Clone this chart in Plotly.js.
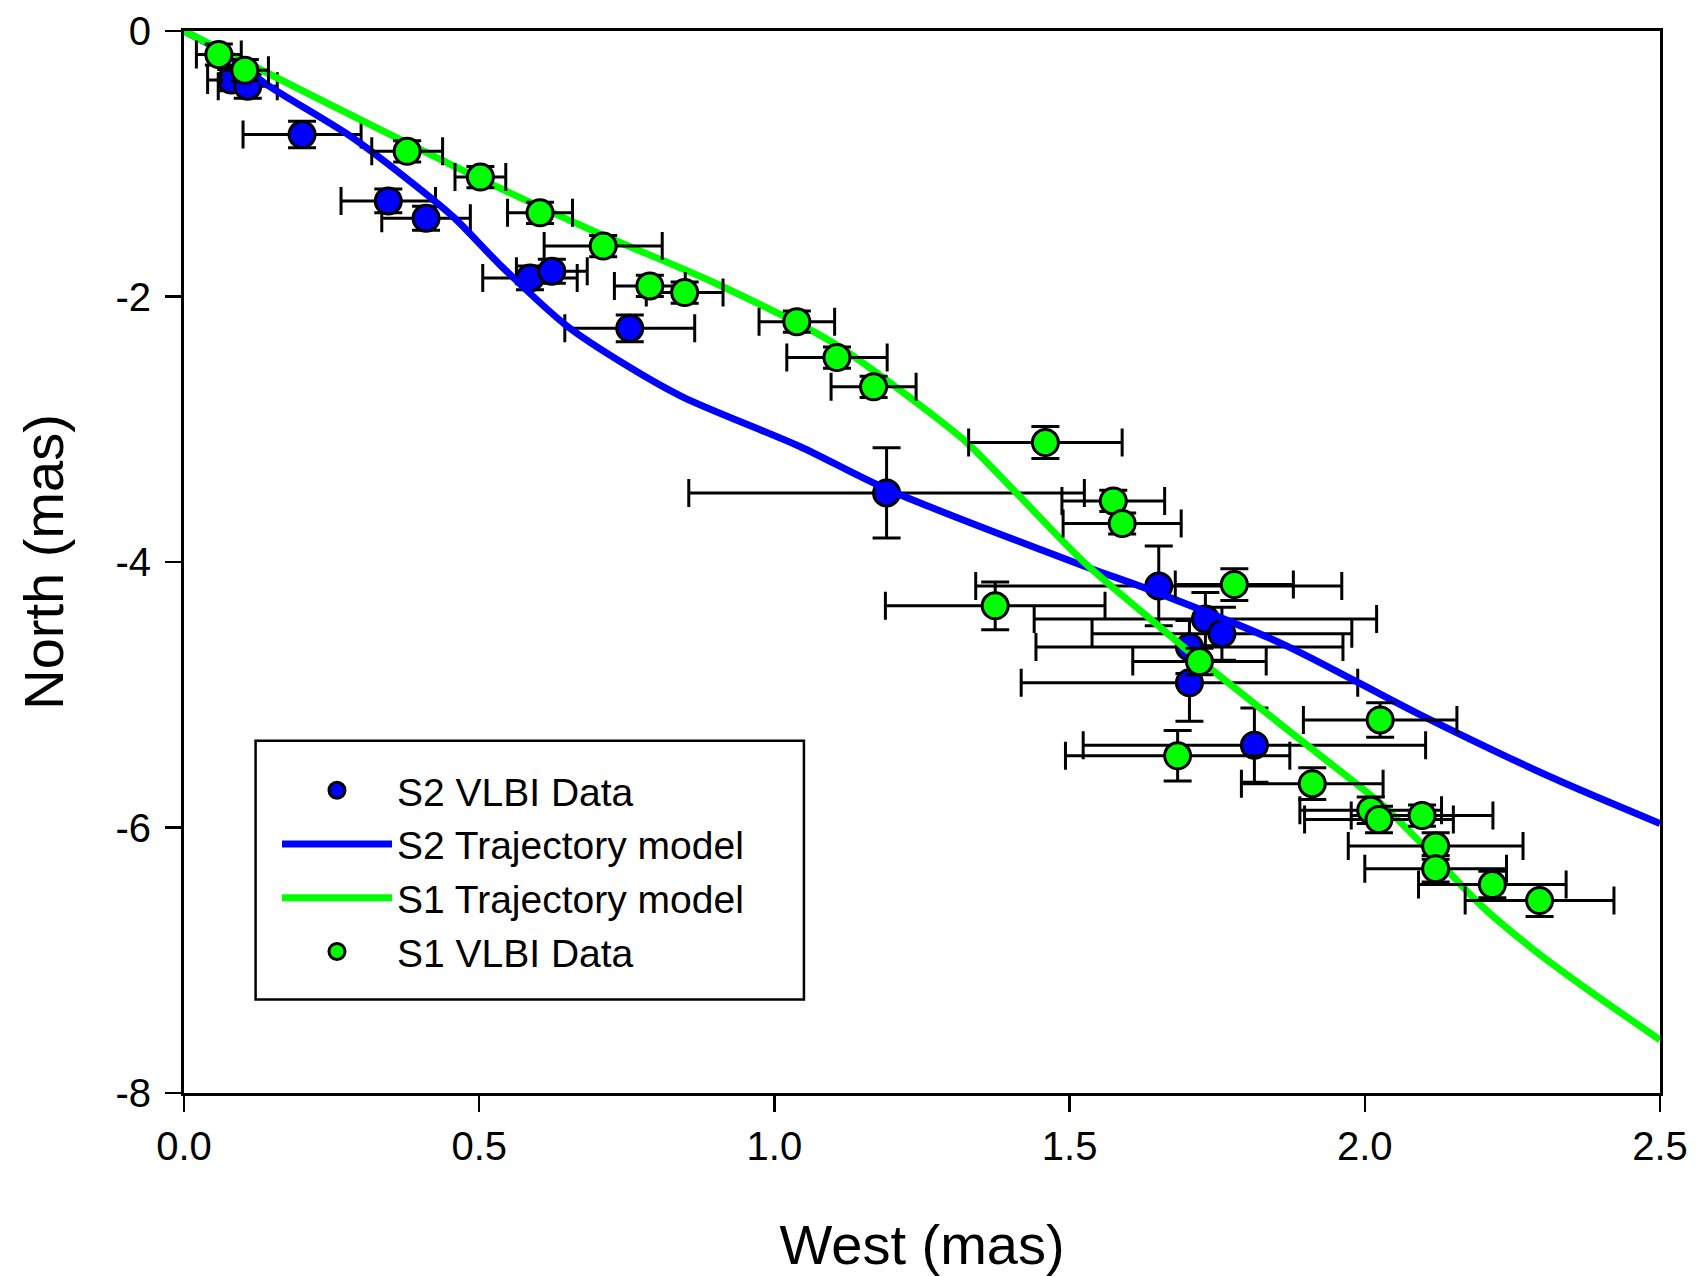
<!DOCTYPE html>
<html>
<head>
<meta charset="utf-8">
<script src="https://cdn.plot.ly/plotly-3.0.1.min.js"></script>
<style>html,body{margin:0;padding:0;background:#fff;}</style>
</head>
<body>
<div id="chart" style="width:1702px;height:1276px;"></div>
<script>
// S2 VLBI data (West, North) with errors, mas
const s2X    = [0.080, 0.108, 0.200, 0.346, 0.410, 0.586, 0.623, 0.755, 1.190, 1.651, 1.730, 1.758, 1.703, 1.703, 1.813];
const s2Y    = [-0.37, -0.416, -0.78, -1.28, -1.41, -1.86, -1.81, -2.24, -3.48, -4.18, -4.43, -4.54, -4.64, -4.91, -5.38];
const s2XErr = [0.040, 0.050, 0.100, 0.080, 0.075, 0.080, 0.060, 0.110, 0.335, 0.310, 0.290, 0.220, 0.260, 0.285, 0.290];
const s2YErr = [0.08, 0.09, 0.10, 0.09, 0.09, 0.09, 0.09, 0.10, 0.34, 0.30, 0.20, 0.20, 0.20, 0.29, 0.28];

// S1 VLBI data
const s1X    = [0.059, 0.103, 0.378, 0.502, 0.603, 0.710, 0.789, 0.848, 1.038, 1.106, 1.168, 1.459, 1.574, 1.589, 1.374, 1.779, 1.720, 1.683, 2.026, 1.911, 2.010, 2.024, 2.097, 2.120, 2.120, 2.216, 2.296];
const s1Y    = [-0.177, -0.295, -0.906, -1.10, -1.37, -1.62, -1.92, -1.97, -2.19, -2.46, -2.68, -3.10, -3.54, -3.71, -4.33, -4.17, -4.75, -5.46, -5.19, -5.67, -5.87, -5.94, -5.91, -6.14, -6.31, -6.43, -6.55];
const s1XErr = [0.038, 0.040, 0.060, 0.043, 0.055, 0.100, 0.060, 0.065, 0.064, 0.085, 0.072, 0.130, 0.087, 0.100, 0.186, 0.100, 0.113, 0.190, 0.130, 0.120, 0.120, 0.126, 0.120, 0.148, 0.120, 0.125, 0.126];
const s1YErr = [0.08, 0.08, 0.08, 0.08, 0.08, 0.08, 0.08, 0.08, 0.08, 0.08, 0.08, 0.12, 0.08, 0.08, 0.18, 0.12, 0.10, 0.19, 0.13, 0.12, 0.10, 0.10, 0.08, 0.10, 0.10, 0.10, 0.12];

// Trajectory models
const s2ModelX = [0, 0.07, 0.139, 0.281, 0.371, 0.456, 0.535, 0.648, 0.75, 0.846, 1.043, 1.19, 1.524, 1.636, 1.862, 2.089, 2.315, 2.5];
const s2ModelY = [0, -0.17, -0.40, -0.79, -1.09, -1.40, -1.76, -2.22, -2.52, -2.76, -3.13, -3.45, -4.03, -4.21, -4.62, -5.14, -5.62, -5.97];
const s1ModelX = [0, 0.25, 0.5, 0.7, 0.9, 1.1, 1.241, 1.326, 1.41, 1.524, 1.637, 1.693, 1.80, 1.908, 2.032, 2.122, 2.2, 2.286, 2.371, 2.5];
const s1ModelY = [0, -0.56, -1.11, -1.52, -1.90, -2.35, -2.80, -3.10, -3.48, -4.00, -4.43, -4.64, -5.02, -5.40, -5.84, -6.24, -6.60, -6.92, -7.20, -7.60];

// Tick labels
const xTickVals = [0, 0.5, 1.0, 1.5, 2.0, 2.5];
const xTickText = ["0.0", "0.5", "1.0", "1.5", "2.0", "2.5"];
const yTickVals = [0, -2, -4, -6, -8];
const yTickText = ["0", "-2", "-4", "-6", "-8"];

const FONT = "Liberation Sans, Arial, sans-serif";
const BLUE = "#0000ff";
const GREEN = "#00ff00";

const errStyle = (arr) => ({type: "data", array: arr, visible: true, color: "#000", thickness: 3, width: 14});

const traces = [
  {
    name: "S2 VLBI Data", x: s2X, y: s2Y, type: "scatter", mode: "markers",
    marker: {size: 26, color: BLUE, line: {color: "#000", width: 3}},
    error_x: errStyle(s2XErr), error_y: errStyle(s2YErr)
  },
  {
    name: "S2 Trajectory model", x: s2ModelX, y: s2ModelY, type: "scatter", mode: "lines",
    line: {color: BLUE, width: 7, shape: "spline", smoothing: 0.8}
  },
  {
    name: "S1 Trajectory model", x: s1ModelX, y: s1ModelY, type: "scatter", mode: "lines",
    line: {color: GREEN, width: 7, shape: "spline", smoothing: 0.8}
  },
  {
    name: "S1 VLBI Data", x: s1X, y: s1Y, type: "scatter", mode: "markers",
    marker: {size: 26, color: GREEN, line: {color: "#000", width: 3}},
    error_x: errStyle(s1XErr), error_y: errStyle(s1YErr)
  }
];

const layout = {
  width: 1702, height: 1276,
  margin: {l: 184, r: 42, t: 31, b: 183},
  paper_bgcolor: "#fff", plot_bgcolor: "#fff",
  font: {family: FONT, color: "#000"},
  showlegend: true,
  legend: {
    x: 0.063, y: 0.315, xanchor: "left", yanchor: "top",
    bgcolor: "rgba(0,0,0,0)", borderwidth: 0,
    font: {family: FONT, size: 39, color: "#000"},
    traceorder: "normal", itemwidth: 110, tracegroupgap: 0
  },
  xaxis: {
    range: [0, 2.5], tickmode: "array", tickvals: xTickVals, ticktext: xTickText,
    ticks: "outside", ticklen: 16, tickwidth: 2.5, tickcolor: "#000",
    showline: true, linecolor: "#000", linewidth: 3, mirror: true,
    showgrid: false, zeroline: false,
    tickfont: {family: FONT, size: 40},
    title: {text: "West (mas)", font: {family: FONT, size: 56}, standoff: 58}
  },
  yaxis: {
    range: [-8, 0], tickmode: "array", tickvals: yTickVals, ticktext: yTickText,
    ticks: "outside", ticklen: 16, tickwidth: 2.5, tickcolor: "#000",
    showline: true, linecolor: "#000", linewidth: 3, mirror: true,
    showgrid: false, zeroline: false, ticklabelstandoff: 6,
    tickfont: {family: FONT, size: 40},
    title: {text: "North (mas)", font: {family: FONT, size: 56}, standoff: 34}
  },
  shapes: [
    {type: "rect", xref: "paper", yref: "paper", x0: 0.0485, x1: 0.420, y0: 0.088, y1: 0.3316,
     line: {color: "#000", width: 2.5}, fillcolor: "rgba(0,0,0,0)", layer: "above"}
  ]
};

Plotly.newPlot("chart", traces, layout, {displayModeBar: false, staticPlot: true});
</script>
</body>
</html>
